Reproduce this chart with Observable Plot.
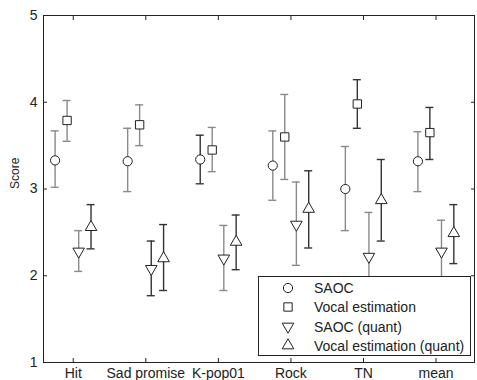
<!DOCTYPE html>
<html>
<head>
<meta charset="utf-8">
<script src="https://cdn.jsdelivr.net/npm/d3@7"></script>
<script src="https://cdn.jsdelivr.net/npm/@observablehq/plot@0.6"></script>
<style>
  body { margin: 0; background: white; }
  #wrap { position: relative; width: 477px; height: 380px; font-family: "Liberation Sans", Arial, sans-serif; }
  #legend { position: absolute; left: 258px; top: 276px; width: 213px; height: 80px; box-sizing: border-box; border: 1px solid #222; background: white; }
</style>
</head>
<body>
<div id="wrap"></div>
<script>
const categories = ["Hit", "Sad promise", "K-pop01", "Rock", "TN", "mean"];
const seriesNames = ["SAOC", "Vocal estimation", "SAOC (quant)", "Vocal estimation (quant)"];
const yTicks = [1, 2, 3, 4, 5];

// SAOC (circle)
const saocMean = [3.33, 3.32, 3.34, 3.27, 3.00, 3.32];
const saocLo   = [3.02, 2.97, 3.06, 2.87, 2.52, 2.97];
const saocHi   = [3.67, 3.70, 3.62, 3.67, 3.49, 3.66];
// Vocal estimation (square)
const vocalMean = [3.79, 3.74, 3.45, 3.60, 3.98, 3.65];
const vocalLo   = [3.55, 3.50, 3.20, 3.11, 3.70, 3.34];
const vocalHi   = [4.02, 3.97, 3.71, 4.09, 4.26, 3.94];
// SAOC (quant) (down triangle)
const saocQMean = [2.28, 2.08, 2.20, 2.59, 2.22, 2.28];
const saocQLo   = [2.05, 1.77, 1.83, 2.12, 1.71, 1.93];
const saocQHi   = [2.52, 2.40, 2.58, 3.08, 2.73, 2.64];
// Vocal estimation (quant) (up triangle)
const vocalQMean = [2.56, 2.20, 2.39, 2.77, 2.87, 2.49];
const vocalQLo   = [2.31, 1.83, 2.07, 2.32, 2.40, 2.14];
const vocalQHi   = [2.82, 2.59, 2.70, 3.21, 3.34, 2.82];

// error bar shade: "g" = grey, "d" = dark
const saocShade   = ["g", "g", "d", "g", "g", "g"];
const vocalShade  = ["g", "g", "g", "g", "d", "d"];
const saocQShade  = ["g", "d", "g", "g", "g", "g"];
const vocalQShade = ["d", "d", "d", "d", "d", "d"];

const GREY = "#8a8a8a", DARK = "#333333";
const offsets = [-0.25, -0.085, 0.075, 0.245];
const cap = 0.055;
const radii = [4.6, 4.7, 4.3, 4.3];

const triangleDown = {
  draw(context, size) {
    const s3 = Math.sqrt(3);
    const y = -Math.sqrt(size / (s3 * 3));
    context.moveTo(0, -y * 2);
    context.lineTo(-s3 * y, y);
    context.lineTo(s3 * y, y);
    context.closePath();
  }
};
const symbols = ["circle", "square", triangleDown, "triangle"];

const seriesData = [
  [saocMean, saocLo, saocHi, saocShade],
  [vocalMean, vocalLo, vocalHi, vocalShade],
  [saocQMean, saocQLo, saocQHi, saocQShade],
  [vocalQMean, vocalQLo, vocalQHi, vocalQShade]
];

const points = [];
seriesData.forEach(([m, lo, hi, sh], s) => {
  categories.forEach((c, i) => {
    points.push({series: s, x: i + 1 + offsets[s], mean: m[i], lo: lo[i], hi: hi[i], color: sh[i] === "g" ? GREY : DARK});
  });
});

const dotMarks = symbols.map((sym, s) =>
  Plot.dot(points.filter(d => d.series === s), {x: "x", y: "mean", symbol: sym, r: radii[s], stroke: "#222", strokeWidth: 1, fill: "white"})
);

const chart = Plot.plot({
  width: 477,
  height: 380,
  marginLeft: 43,
  marginRight: 3,
  marginTop: 15,
  marginBottom: 18,
  style: {fontFamily: "'Liberation Sans', Arial, sans-serif", fontSize: "14px", background: "white", color: "#222"},
  x: {type: "linear", domain: [0.59, 6.53]},
  y: {domain: [1, 5]},
  marks: [
    Plot.ruleX(points, {x: "x", y1: "lo", y2: "hi", stroke: "color", strokeWidth: 1.4}),
    Plot.ruleY(points, {y: "lo", x1: d => d.x - cap, x2: d => d.x + cap, stroke: "color", strokeWidth: 1.4}),
    Plot.ruleY(points, {y: "hi", x1: d => d.x - cap, x2: d => d.x + cap, stroke: "color", strokeWidth: 1.4}),
    ...dotMarks,
    Plot.frame({stroke: "#222"}),
    Plot.axisX({anchor: "bottom", ticks: [1, 2, 3, 4, 5, 6], tickFormat: v => categories[v - 1], tickSize: -4, tickPadding: 10, label: null}),
    Plot.axisX({anchor: "top", ticks: [1, 2, 3, 4, 5, 6], tickFormat: () => "", tickSize: -4, label: null}),
    Plot.axisY({anchor: "left", ticks: yTicks, tickFormat: d3.format("d"), tickSize: -4, tickPadding: 10, label: null}),
    Plot.axisY({anchor: "right", ticks: yTicks, tickFormat: () => "", tickSize: -4, label: null}),
    Plot.text(["Score"], {frameAnchor: "left", text: d => d, rotate: -90, dx: -28, fontSize: 12})
  ]
});

const wrap = document.getElementById("wrap");
wrap.appendChild(chart);

// legend (inside the plot area, bottom right)
const legend = document.createElement("div");
legend.id = "legend";
const lsvg = d3.select(legend).append("svg").attr("width", 211).attr("height", 78);
const rowY = [11, 30, 49.5, 68.5];
seriesNames.forEach((name, s) => {
  const sym = typeof symbols[s] === "string" ? {circle: d3.symbolCircle, square: d3.symbolSquare, triangle: d3.symbolTriangle}[symbols[s]] : symbols[s];
  lsvg.append("path")
    .attr("d", d3.symbol(sym, Math.PI * radii[s] * radii[s])())
    .attr("transform", `translate(29,${rowY[s]})`)
    .attr("fill", "white").attr("stroke", "#222");
  lsvg.append("text")
    .attr("x", 55).attr("y", rowY[s]).attr("dy", "0.36em")
    .attr("font-family", "'Liberation Sans', Arial, sans-serif")
    .attr("font-size", 14).attr("fill", "#222")
    .text(name);
});
wrap.appendChild(legend);
</script>
</body>
</html>
